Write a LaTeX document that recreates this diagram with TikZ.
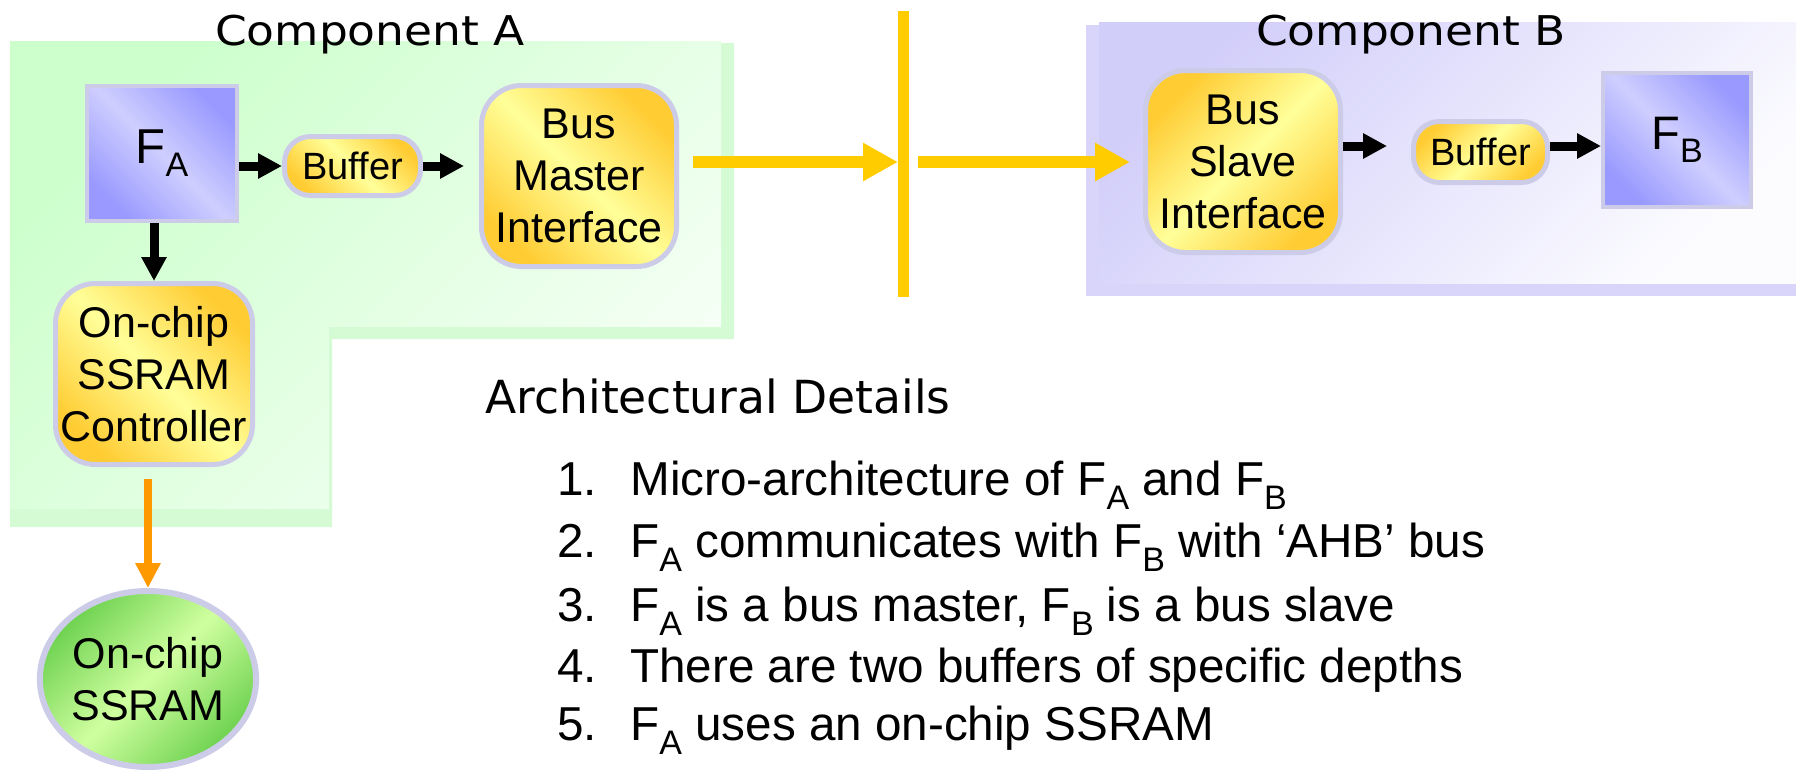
\documentclass[tikz,border=0pt]{standalone}
\usepackage{fontspec}
\usepackage{graphicx}
\setmainfont{Liberation Sans}
\newfontfamily\dejavu{DejaVu Sans}
\usetikzlibrary{arrows.meta,shapes.geometric}
\definecolor{bord}{RGB}{204,204,232}
\definecolor{ydark}{RGB}{255,204,51}
\definecolor{ylight}{RGB}{255,255,153}
\definecolor{bdark}{RGB}{153,153,255}
\definecolor{blight}{RGB}{206,206,255}
\definecolor{gdark}{RGB}{110,210,80}
\definecolor{glight}{RGB}{208,255,160}
\definecolor{regA}{RGB}{204,255,204}
\definecolor{regAlight}{RGB}{246,255,246}
\definecolor{regAshadow}{RGB}{212,251,212}
\definecolor{regB}{RGB}{210,206,250}
\definecolor{regBlight}{RGB}{252,252,255}
\definecolor{regBshadow}{RGB}{216,212,250}
\definecolor{busy}{RGB}{255,204,0}
\definecolor{orng}{RGB}{255,153,0}
\newcommand{\FX}[1]{F\raisebox{-7pt}{\fontsize{17}{17}\selectfont #1}}
\newcommand{\FY}[1]{F\raisebox{-6.5pt}{\fontsize{17}{17}\selectfont #1}}
\tikzset{
  box/.style={draw=bord, line width=2.5pt, inner sep=0pt, align=center,
    font=\fontsize{21.5}{26}\selectfont},
  yelTR/.style={top color=ydark, bottom color=ydark, middle color=ylight, shading angle=-45},
  yelTL/.style={top color=ydark, bottom color=ydark, middle color=ylight, shading angle=45},
  fbox/.style={draw=bord, line width=2pt, inner sep=0pt, align=center,
    top color=bdark, bottom color=bdark, middle color=blight, shading angle=-45},
  blk/.style={black, line width=4.5pt, -{Triangle[length=12pt,width=12pt]}},
  busarrow/.style={busy, line width=6pt, -{Triangle[length=17.5pt,width=18pt]}},
  orarrow/.style={orng, line width=3.75pt, -{Triangle[length=12.5pt,width=12pt]}},
  listtext/.style={anchor=base west, inner sep=0pt, font=\fontsize{23.8}{23.8}\selectfont},
  comptitle/.style={anchor=base, inner sep=0pt, font=\dejavu\fontsize{20.5}{20.5}\selectfont}
}
\begin{document}
\begin{tikzpicture}[x=0.5pt,y=-0.5pt]
\useasboundingbox (0,0) rectangle (1798,771);
% Component A region
\fill[regAshadow] (10,43) -- (734,43) -- (734,339) -- (332,339) -- (332,527) -- (10,527) -- cycle;
\shade[top color=regA, bottom color=regAlight, shading angle=45]
  (10,41) -- (721,41) -- (721,327) -- (329,327) -- (329,509) -- (10,509) -- cycle;
% Component B region
\fill[regBshadow] (1086,25) rectangle (1796,296);
\shade[top color=regB, bottom color=regBlight, shading angle=45] (1099,22) rectangle (1796,283);
% titles
\node[comptitle] (lblA) at (370,45) {\scalebox{1.11}[1]{Component A}};
\node[comptitle] (lblB) at (1411,45) {\scalebox{1.11}[1]{Component B}};
% nodes of A
\node[fbox, minimum width=75pt, minimum height=67.5pt, font=\fontsize{24.5}{24.5}\selectfont] (FA) at (162,153.5) {\FY{A}};
\node[box, yelTR, rounded corners=13pt, minimum width=68pt, minimum height=29.5pt,
  font=\fontsize{19}{19}\selectfont] (bufA) at (352.5,166) {Buffer};
\node[box, yelTR, rounded corners=20pt, minimum width=97.5pt, minimum height=90.5pt] (BMI) at (579,176) {Bus\\Master\\Interface};
\node[box, yelTR, rounded corners=20pt, minimum width=98.5pt, minimum height=90.5pt] (ctrl) at (154,374) {On-chip\\SSRAM\\Controller};
\node[box, ellipse, line width=3pt, inner sep=0pt, minimum width=105pt, minimum height=88pt,
  top color=gdark, bottom color=gdark, middle color=glight, shading angle=45] (ssram) at (148,679) {On-chip\\SSRAM};
% nodes of B
\node[box, yelTL, rounded corners=20pt, minimum width=97.5pt, minimum height=91pt] (BSI) at (1243,161.5) {Bus\\Slave\\Interface};
\node[box, yelTL, rounded corners=13pt, minimum width=67pt, minimum height=30.5pt,
  font=\fontsize{19}{19}\selectfont] (bufB) at (1480.5,152) {Buffer};
\node[fbox, minimum width=74pt, minimum height=67pt, font=\fontsize{23.5}{23.5}\selectfont] (FB) at (1677,140) {\FY{B}};
% bus bar
\coordinate (bartop) at (903,11);
\coordinate (barbot) at (903,297);
\coordinate (busin) at (898,162);
\coordinate (busout) at (918,162);
\draw[busy, line width=5.5pt] (bartop) -- (barbot);
% connectors
\draw[blk] (FA.east |- bufA.west) -- (bufA.west);
\draw[blk, shorten >=7.5pt] (bufA.east) -- (bufA.east -| BMI.west);
\draw[blk] (FA.south -| ctrl.north) -- (ctrl.north);
\draw[orarrow, shorten <=6pt] (ctrl.south -| ssram.north) -- (ssram.north);
\draw[busarrow, shorten <=7pt] (BMI.east |- busin) -- (busin);
\draw[busarrow, shorten >=6.5pt] (busout) -- (BSI.west |- busout);
\draw[blk, shorten >=12pt] ([yshift=3pt]bufB.west -| BSI.east) -- ([yshift=3pt]bufB.west);
\draw[blk] ([yshift=3pt]bufB.east) -- ([yshift=3pt]bufB.east -| FB.west);
% details
\node[anchor=base west, inner sep=0pt, font=\dejavu\fontsize{22.8}{22.8}\selectfont] (hdr) at (485,413) {Architectural Details};
\node[listtext] (n1) at (557,495) {1.};
\node[listtext] (t1) at (630,495) {Micro-architecture of \FX{A} and \FX{B}};
\node[listtext] (n2) at (557,557) {2.};
\node[listtext] (t2) at (630,557) {\FX{A} communicates with \FX{B} with ‘AHB’ bus};
\node[listtext] (n3) at (557,621) {3.};
\node[listtext] (t3) at (630,621) {\FX{A} is a bus master, \FX{B} is a bus slave};
\node[listtext] (n4) at (557,682) {4.};
\node[listtext] (t4) at (630,682) {There are two buffers of specific depths};
\node[listtext] (n5) at (557,740) {5.};
\node[listtext] (t5) at (630,740) {\FX{A} uses an on-chip SSRAM};
\end{tikzpicture}
\end{document}
